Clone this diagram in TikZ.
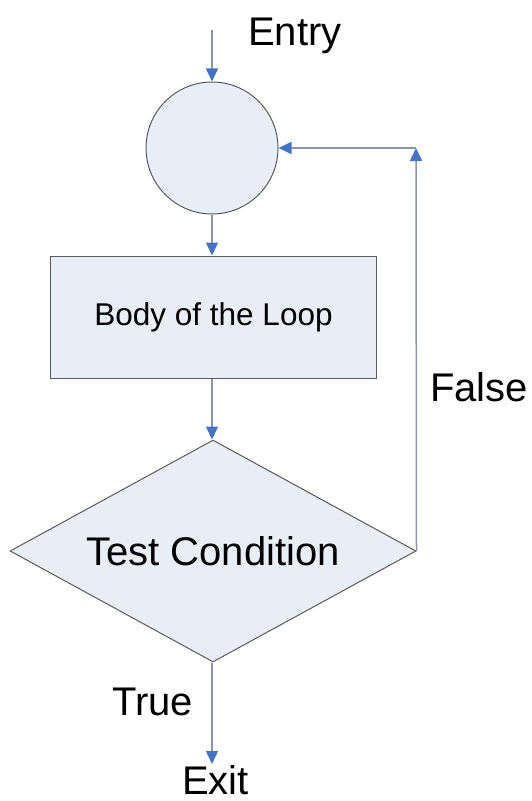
\documentclass[tikz,border=0pt]{standalone}
\usepackage{fontspec}
\setmainfont{Liberation Sans}
\usetikzlibrary{shapes.geometric,arrows.meta}

\definecolor{boxfill}{RGB}{232,238,247}
\definecolor{boxline}{RGB}{90,90,90}
\definecolor{flowline}{RGB}{140,150,168}
\definecolor{flowhead}{RGB}{68,114,196}

\tikzset{
  block/.style={draw=boxline, fill=boxfill, line width=1bp, inner sep=0pt},
  flow/.style={draw=flowline, line width=1.5bp, -{Triangle[width=12bp,length=13bp,color=flowhead]}},
  big/.style={font=\fontsize{40bp}{48bp}\selectfont, inner sep=0pt},
}

\begin{document}
\begin{tikzpicture}[x=1bp, y=-1bp]
    \useasboundingbox (0,0) rectangle (532,801);

    % The loop entry point and the junction circle
    \coordinate (start) at (212,30);
    \node[big, anchor=base west] (entry) at (248,46) {Entry};
    \node[block, circle, minimum size=132bp] (join) at (212,148) {};

    % Now the body and the test
    \node[block, rectangle, minimum width=325bp, minimum height=122bp,
          font=\fontsize{31.5bp}{38bp}\selectfont] (body) at (213.5,317) {Body of the Loop};
    \node[block, diamond, aspect=1.83, minimum width=406bp, minimum height=222bp,
          font=\fontsize{40bp}{48bp}\selectfont] (test) at (213,551) {Test Condition};

    % Forward path
    \draw[flow] (start) -- (join.north);
    \draw[flow] (join.south) -- (body.north -| join.south);
    \draw[flow] (body.south -| join.south) -- (test.north -| join.south);

    % Back edge when the test fails
    \coordinate (corner) at (416,148);
    \draw[flow] (test.east) -- (corner);
    \draw[flow] (corner) -- (join.east);
    \node[big, anchor=base west] (false) at (430,401) {False};

    % Leaving the loop
    \coordinate (out) at (212,764);
    \draw[flow] (test.south -| join.south) -- (out);
    \node[big, anchor=base west] (true) at (112,715) {True};
    \node[big, anchor=base west] (exit) at (182,794) {Exit};

\end{tikzpicture}
\end{document}
